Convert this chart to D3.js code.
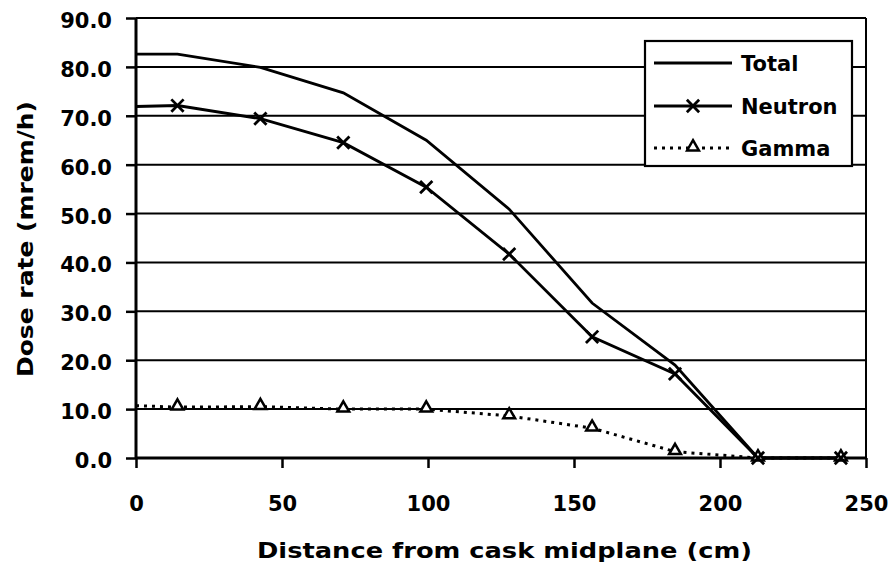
<!DOCTYPE html>
<html>
<head>
<meta charset="utf-8">
<script src="https://cdn.jsdelivr.net/npm/d3@7"></script>
<style>
body { margin: 0; background: #fff; }
text { font-family: "DejaVu Sans", "Liberation Sans", Arial, sans-serif; font-weight: bold; fill: #000; }
</style>
</head>
<body>
<script>
// distances from cask midplane (cm)
var distance = [0, 14.2, 42.6, 71, 99.4, 127.8, 156.2, 184.6, 213, 241.4];
// dose rates (mrem/h)
var total   = [82.6, 82.6, 79.9, 74.7, 65.0, 50.9, 31.7, 19.0, 0.0, 0.0];
var neutron = [71.9, 72.1, 69.4, 64.5, 55.4, 41.7, 24.8, 17.2, 0.0, 0.0];
var gamma   = [10.7, 10.4, 10.5, 10.0, 10.0, 8.6, 6.1, 1.3, 0.0, 0.0];
var xTicks = [0, 50, 100, 150, 200, 250];
var yTicks = [0, 10, 20, 30, 40, 50, 60, 70, 80, 90];
var seriesNames = ["Total", "Neutron", "Gamma"];

var width = 895, height = 573;
var svg = d3.select("body").append("svg")
    .attr("width", width)
    .attr("height", height);

var x = d3.scaleLinear().domain([0, 250]).range([136, 866]);
var y = d3.scaleLinear().domain([0, 90]).range([458, 18]);

// horizontal gridlines
svg.append("g").selectAll("line")
    .data(yTicks.slice(1))
    .enter().append("line")
    .attr("x1", x(0)).attr("x2", x(250))
    .attr("y1", function(d) { return y(d); })
    .attr("y2", function(d) { return y(d); })
    .attr("stroke", "#000")
    .attr("stroke-width", 2);

// right border
svg.append("line")
    .attr("x1", x(250)).attr("x2", x(250))
    .attr("y1", y(90)).attr("y2", y(0))
    .attr("stroke", "#000").attr("stroke-width", 2);

// axes
var yAxis = d3.axisLeft(y).tickValues(yTicks)
    .tickFormat(d3.format(".1f")).tickSize(10).tickPadding(14);
var xAxis = d3.axisBottom(x).tickValues(xTicks)
    .tickFormat(d3.format("d")).tickSize(10).tickPadding(28);

var gy = svg.append("g").attr("transform", "translate(" + x(0) + ",0)").call(yAxis);
var gx = svg.append("g").attr("transform", "translate(0," + y(0) + ")").call(xAxis);

[gx, gy].forEach(function(g) {
    g.select(".domain").attr("stroke", "#000").attr("stroke-width", 3);
    g.selectAll(".tick line").attr("stroke", "#000").attr("stroke-width", 2.5);
    g.selectAll(".tick text").style("font-size", "21px").attr("fill", "#000");
});
gy.selectAll(".tick text").attr("dy", "0.45em");
gy.select(".domain").attr("d", "M0," + y(0) + "V" + y(90));
gx.select(".domain").attr("d", "M" + x(0) + ",0H" + x(250));

// axis titles
svg.append("text")
    .attr("x", 257).attr("y", 558)
    .attr("textLength", 495)
    .attr("lengthAdjust", "spacingAndGlyphs")
    .style("font-size", "22px")
    .text("Distance from cask midplane (cm)");

svg.append("text")
    .attr("transform", "translate(33,377) rotate(-90)")
    .attr("textLength", 276)
    .attr("lengthAdjust", "spacingAndGlyphs")
    .style("font-size", "22px")
    .text("Dose rate (mrem/h)");

// lines
var line = d3.line()
    .x(function(d) { return x(d[0]); })
    .y(function(d) { return y(d[1]); });

function pairs(vals) {
    return distance.map(function(d, i) { return [d, vals[i]]; });
}

svg.append("path")
    .datum(pairs(gamma))
    .attr("d", line)
    .attr("fill", "none")
    .attr("stroke", "#000")
    .attr("stroke-width", 3)
    .attr("stroke-dasharray", "3,5");

svg.append("path")
    .datum(pairs(total))
    .attr("d", line)
    .attr("fill", "none")
    .attr("stroke", "#000")
    .attr("stroke-width", 2.8);

svg.append("path")
    .datum(pairs(neutron))
    .attr("d", line)
    .attr("fill", "none")
    .attr("stroke", "#000")
    .attr("stroke-width", 2.8);

// markers (none at the axis point)
var tri = d3.symbol().type(d3.symbolTriangle).size(60);
svg.append("g").selectAll("path")
    .data(pairs(gamma).slice(1))
    .enter().append("path")
    .attr("d", tri)
    .attr("transform", function(d) { return "translate(" + x(d[0]) + "," + (y(d[1]) - 1) + ")"; })
    .attr("fill", "#fff")
    .attr("stroke", "#000")
    .attr("stroke-width", 2.5);

var cross = d3.symbol().type(d3.symbolX).size(100);
svg.append("g").selectAll("path")
    .data(pairs(neutron).slice(1))
    .enter().append("path")
    .attr("d", cross)
    .attr("transform", function(d) { return "translate(" + x(d[0]) + "," + y(d[1]) + ")"; })
    .attr("fill", "none")
    .attr("stroke", "#000")
    .attr("stroke-width", 2.8);

// legend
var legend = svg.append("g");
legend.append("rect")
    .attr("x", 645).attr("y", 41)
    .attr("width", 207).attr("height", 125)
    .attr("fill", "#fff")
    .attr("stroke", "#000")
    .attr("stroke-width", 2.2);

var rowY = [63, 106, 148];
seriesNames.forEach(function(name, i) {
    var ly = rowY[i];
    var l = legend.append("line")
        .attr("x1", 654).attr("x2", 732)
        .attr("y1", ly).attr("y2", ly)
        .attr("stroke", "#000")
        .attr("stroke-width", i === 2 ? 3 : 2.8);
    if (i === 2) l.attr("stroke-dasharray", "3,5");
    if (i === 1) {
        legend.append("path").attr("d", cross)
            .attr("transform", "translate(693," + ly + ")")
            .attr("fill", "none").attr("stroke", "#000").attr("stroke-width", 2.8);
    }
    if (i === 2) {
        legend.append("path").attr("d", tri)
            .attr("transform", "translate(693," + (ly - 1) + ")")
            .attr("fill", "#fff").attr("stroke", "#000").attr("stroke-width", 2.5);
    }
    legend.append("text")
        .attr("x", 741).attr("y", ly + 8)
        .style("font-size", "21px")
        .text(name);
});
</script>
</body>
</html>
